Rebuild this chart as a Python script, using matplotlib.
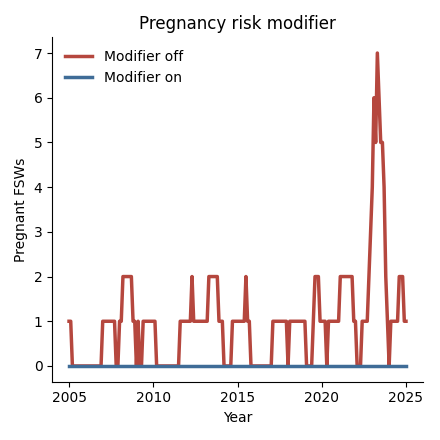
import numpy as np
import matplotlib
matplotlib.use("Agg")
import matplotlib.pyplot as plt

# Time axis: 0.1-year steps from 2005 to 2025
years = np.round(np.linspace(2005.0, 2025.0, 201), 1)

# Pregnant FSWs, modifier off (one row per year)
preg_off = [
    1, 1, 0, 0, 0, 0, 0, 0, 0, 0,   # 2005
    0, 0, 0, 0, 0, 0, 0, 0, 0, 0,   # 2006
    1, 1, 1, 1, 1, 1, 1, 1, 0, 0,   # 2007
    1, 1, 2, 2, 2, 2, 2, 2, 1, 1,   # 2008
    0, 1, 0, 0, 1, 1, 1, 1, 1, 1,   # 2009
    1, 1, 0, 0, 0, 0, 0, 0, 0, 0,   # 2010
    0, 0, 0, 0, 0, 0, 1, 1, 1, 1,   # 2011
    1, 1, 1, 2, 1, 1, 1, 1, 1, 1,   # 2012
    1, 1, 1, 2, 2, 2, 2, 2, 2, 1,   # 2013
    1, 1, 0, 0, 0, 0, 0, 1, 1, 1,   # 2014
    1, 1, 1, 1, 1, 2, 1, 1, 0, 0,   # 2015
    0, 0, 0, 0, 0, 0, 0, 0, 0, 0,   # 2016
    0, 1, 1, 1, 1, 1, 1, 1, 1, 1,   # 2017
    0, 1, 1, 1, 1, 1, 1, 1, 1, 1,   # 2018
    1, 0, 0, 0, 0, 1, 2, 2, 2, 1,   # 2019
    1, 1, 1, 0, 1, 1, 1, 1, 1, 1,   # 2020
    1, 2, 2, 2, 2, 2, 2, 2, 2, 1,   # 2021
    1, 0, 0, 0, 1, 1, 1, 1, 2, 3,   # 2022
    4, 6, 5, 7, 6, 5, 5, 4, 2, 1,   # 2023
    0, 1, 1, 1, 1, 1, 2, 2, 2, 1,   # 2024
    1,                              # 2025
]

# Pregnant FSWs, modifier on
preg_on = [0] * 201

series_labels = ["Modifier off", "Modifier on"]
title = "Pregnancy risk modifier"
xlabel = "Year"
ylabel = "Pregnant FSWs"

red = "#b5473e"
blue = "#3f6c97"

fig = plt.figure(figsize=(4.4, 4.4), dpi=100)
ax = fig.add_axes([0.1186, 0.1327, 0.961 - 0.1186, 0.915 - 0.1327])

ax.plot(years, preg_off, color=red, lw=2.5, label=series_labels[0])
ax.plot(years, preg_on, color=blue, lw=2.5, label=series_labels[1])

ax.set_title(title, fontsize=12)
ax.set_xlabel(xlabel, fontsize=10)
ax.set_ylabel(ylabel, fontsize=10)
ax.set_xticks([2005, 2010, 2015, 2020, 2025])
ax.set_yticks(range(0, 8))
ax.tick_params(labelsize=10)
ax.spines["top"].set_visible(False)
ax.spines["right"].set_visible(False)
ax.legend(loc="upper left", frameon=False, fontsize=10)

fig.savefig("out.png", dpi=100)
